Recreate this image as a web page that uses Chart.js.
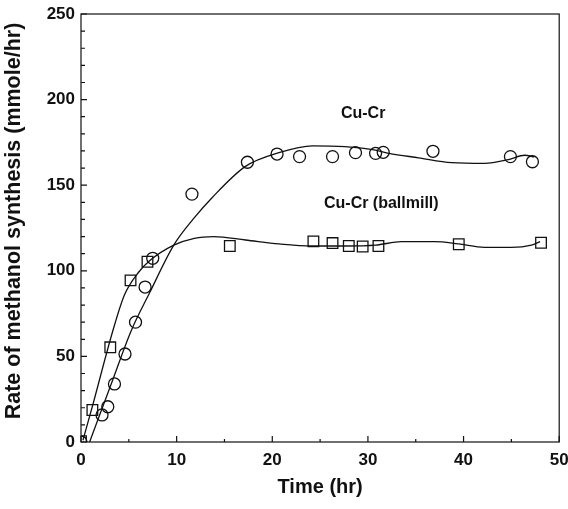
<!DOCTYPE html>
<html>
<head>
<meta charset="utf-8">
<script src="https://cdn.jsdelivr.net/npm/chart.js@4.4.1/dist/chart.umd.min.js"></script>
<style>
  html, body { margin: 0; padding: 0; background: #fff; overflow: hidden; }
  #wrap { position: relative; width: 568px; height: 509px; }
</style>
</head>
<body>
<div id="wrap"><canvas id="grafica"></canvas></div>
<script>
// Cu-Cr: puntos medidos (círculos)
const tiempoCuCr = [0, 2.2, 2.8, 3.5, 4.6, 5.7, 6.7, 7.5, 11.6, 17.4, 20.5, 22.85, 26.3, 28.7, 30.8, 31.6, 36.8, 44.9, 47.2];
const tasaCuCr = [0, 15.8, 20.6, 33.9, 51.4, 70, 90.5, 107.3, 144.8, 163.4, 168.2, 166.7, 166.7, 169, 168.6, 169.2, 169.8, 166.7, 163.7];

// Cu-Cr (ballmill): puntos medidos (cuadrados)
const tiempoBallmill = [0, 1.19, 3.06, 5.18, 6.95, 15.56, 24.3, 26.3, 28.0, 29.45, 31.1, 39.5, 48.1];
const tasaBallmill = [0.5, 18.7, 55.3, 94.4, 105.3, 114.5, 117.2, 116.2, 114.5, 114.2, 114.5, 115.5, 116.4];

// Curvas de ajuste, leídas a lo largo de la línea dibujada
const ajusteCuCrTiempo = [0.9, 3.17, 5.25, 7.16, 9.7, 11.7, 13.75, 17.2, 20.7, 24.2, 27.6, 30.8, 32.2, 35.3, 38.75, 42.2, 44.7, 46.4, 47.4];
const ajusteCuCrTasa = [0, 34, 65, 87, 115, 130, 143, 161, 169, 173, 172.5, 170.5, 168.6, 166, 163.2, 162.8, 165, 167.5, 166.5];
const ajusteBallTiempo = [0.2, 1.2, 3.33, 4.55, 6.0, 7.2, 9.7, 11.85, 13.9, 17.2, 20.7, 24.2, 27.6, 30.8, 33.5, 37, 39.45, 42.2, 45, 47.1, 48];
const ajusteBallTasa = [1, 21, 65, 86, 99, 106, 115, 119, 120, 118, 115.7, 114.5, 114.5, 115, 117, 117, 115.7, 113.7, 113.7, 115, 117];

// Rótulos dentro del gráfico (en coordenadas de datos)
const rotulos = ['Cu-Cr', 'Cu-Cr (ballmill)'];
const rotulosX = [29.5, 31.4];
const rotulosY = [192, 139];

const FUENTE = "'Liberation Sans', Arial, sans-serif";
const NEGRO = '#111';

const puntos = (xs, ys) => xs.map((x, i) => ({ x, y: ys[i] }));

// Marco completo, ticks hacia adentro, rótulos y título del eje Y
const marcoPlugin = {
  id: 'marco',
  afterDraw(chart) {
    const { ctx, chartArea: a, scales: { x, y } } = chart;
    ctx.save();
    ctx.strokeStyle = NEGRO;
    ctx.lineWidth = 1.2;
    ctx.strokeRect(a.left, a.top, a.right - a.left, a.bottom - a.top);

    ctx.beginPath();
    x.ticks.forEach((t) => {
      const px = x.getPixelForValue(t.value);
      const len = t.value % 10 === 0 ? 6 : 3;
      ctx.moveTo(px, a.bottom);
      ctx.lineTo(px, a.bottom - len);
    });
    y.ticks.forEach((t) => {
      const py = y.getPixelForValue(t.value);
      const len = t.value % 50 === 0 ? 6 : 4;
      ctx.moveTo(a.left, py);
      ctx.lineTo(a.left + len, py);
    });
    ctx.stroke();

    ctx.fillStyle = NEGRO;
    ctx.font = `bold 16px ${FUENTE}`;
    ctx.textAlign = 'center';
    ctx.textBaseline = 'middle';
    rotulos.forEach((txt, i) => {
      ctx.fillText(txt, x.getPixelForValue(rotulosX[i]), y.getPixelForValue(rotulosY[i]));
    });

    ctx.translate(14.5, 221);
    ctx.rotate(-Math.PI / 2);
    ctx.font = `bold 21.5px ${FUENTE}`;
    ctx.fillText('Rate of methanol synthesis (mmole/hr)', 0, 0);
    ctx.restore();
  },
};

const ctx = document.getElementById('grafica').getContext('2d');
new Chart(ctx, {
  type: 'scatter',
  data: {
    datasets: [
      {
        label: 'Cu-Cr ajuste',
        data: puntos(ajusteCuCrTiempo, ajusteCuCrTasa),
        showLine: true,
        cubicInterpolationMode: 'monotone',
        borderColor: NEGRO,
        borderWidth: 1.3,
        pointRadius: 0,
      },
      {
        label: 'Cu-Cr (ballmill) ajuste',
        data: puntos(ajusteBallTiempo, ajusteBallTasa),
        showLine: true,
        cubicInterpolationMode: 'monotone',
        borderColor: NEGRO,
        borderWidth: 1.3,
        pointRadius: 0,
      },
      {
        label: 'Cu-Cr',
        data: puntos(tiempoCuCr, tasaCuCr),
        pointStyle: 'circle',
        pointRadius: 6,
        borderColor: NEGRO,
        borderWidth: 1.3,
        backgroundColor: 'rgba(0,0,0,0)',
      },
      {
        label: 'Cu-Cr (ballmill)',
        data: puntos(tiempoBallmill, tasaBallmill),
        pointStyle: 'rect',
        pointRadius: 7.5,
        borderColor: NEGRO,
        borderWidth: 1.3,
        backgroundColor: 'rgba(0,0,0,0)',
      },
    ],
  },
  options: {
    responsive: true,
    maintainAspectRatio: false,
    animation: false,
    layout: { padding: { top: 14, right: 7, bottom: 0, left: 0 } },
    plugins: { legend: { display: false }, tooltip: { enabled: false } },
    scales: {
      x: {
        type: 'linear',
        min: 0,
        max: 50,
        grid: { drawOnChartArea: false, drawTicks: false },
        border: { display: false },
        ticks: {
          stepSize: 5,
          padding: 8,
          color: NEGRO,
          font: { family: FUENTE, size: 17, weight: 'bold' },
          callback: (v) => (v % 10 === 0 ? v : ''),
          maxRotation: 0,
          autoSkip: false,
        },
        title: {
          display: true,
          text: 'Time (hr)',
          color: NEGRO,
          font: { family: FUENTE, size: 20, weight: 'bold' },
          padding: { top: 0, bottom: 10 },
        },
        afterFit: (s) => { s.height = 67; s.paddingLeft = 0; s.paddingRight = 0; },
      },
      y: {
        type: 'linear',
        min: 0,
        max: 250,
        grid: { drawOnChartArea: false, drawTicks: false },
        border: { display: false },
        ticks: {
          stepSize: 10,
          padding: 6,
          color: NEGRO,
          font: { family: FUENTE, size: 17, weight: 'bold' },
          callback: (v) => (v % 50 === 0 ? v : ''),
          autoSkip: false,
        },
        afterFit: (s) => { s.width = 81; s.paddingTop = 0; s.paddingBottom = 0; },
      },
    },
  },
  plugins: [marcoPlugin],
});
</script>
</body>
</html>
